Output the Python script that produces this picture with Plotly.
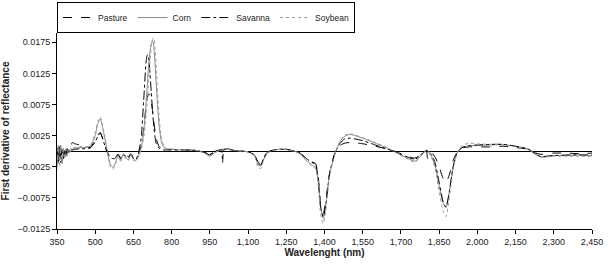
import plotly.graph_objects as go

wavelength = [350, 355, 360, 365, 370, 375, 380, 385, 390, 395, 400, 410, 420, 440, 460, 480,
              500, 510, 520, 530, 545, 560, 570, 580, 590, 600, 610, 620, 630, 640, 650, 660,
              670, 680, 690, 700, 705, 710, 715, 720, 725, 730, 735, 740, 750, 760, 770, 780,
              800, 850, 900, 930, 950, 970, 995, 1000, 1005, 1020, 1050, 1100, 1125, 1140,
              1150, 1160, 1175, 1200, 1250, 1300, 1330, 1350, 1365, 1375, 1385, 1395, 1405,
              1420, 1440, 1460, 1480, 1500, 1550, 1600, 1650, 1680, 1700, 1730, 1755, 1770,
              1790, 1800, 1805, 1820, 1835, 1850, 1865, 1877, 1890, 1905, 1920, 1940, 1970,
              2000, 2050, 2100, 2150, 2200, 2230, 2250, 2270, 2300, 2350, 2400, 2450]

pasture = [-0.0010, 0.0010, -0.0020, 0.0006, -0.0015, 0.0004, -0.0008, 0.0005, -0.0005, 0.0006,
           0.0004, 0.0014, 0.0012, 0.0010, 0.0008, 0.0006,
           0.0018, 0.0026, 0.0030, 0.0020, 0.0002, -0.0012, -0.0015, -0.0010, -0.0006, -0.0010,
           -0.0005, -0.0006, -0.0009, -0.0004, -0.0010, -0.0012,
           -0.0005, 0.0008, 0.0035, 0.0075, 0.0087, 0.0092, 0.0090, 0.0080, 0.0065, 0.0048,
           0.0032, 0.0020, 0.0008, 0.0004, 0.0003, 0.0003,
           0.0003, 0.0002, 0.0001, -0.0002, -0.0006, -0.0001, 0.0003, 0.0003, 0.0003, 0.0004,
           0.0001, -0.0001, -0.0006, -0.0018,
           -0.0020, -0.0012, -0.0002, 0.0002, 0.0003, -0.0002, -0.0012, -0.0017, -0.0020,
           -0.0040, -0.0085, -0.0100, -0.0080,
           -0.0035, -0.0004, 0.0009, 0.0013, 0.0014, 0.0012, 0.0008, 0.0003, -0.0001, -0.0004,
           -0.0009, -0.0011, -0.0008,
           -0.0001, 0.0001, -0.0012, -0.0002, -0.0010, -0.0025, -0.0043, -0.0050, -0.0038,
           -0.0015, -0.0002, 0.0005, 0.0007,
           0.0007, 0.0007, 0.0008, 0.0006, 0.0003, -0.0003, -0.0005, -0.0004, -0.0003, -0.0003,
           -0.0004, -0.0003]

corn = [-0.0025, 0.0008, -0.0015, 0.0010, -0.0020, 0.0003, -0.0010, 0.0004, -0.0006, 0.0003,
        -0.0002, 0.0003, 0.0005, 0.0006, 0.0006, 0.0008,
        0.0025, 0.0044, 0.0052, 0.0036, 0.0005, -0.0022, -0.0026, -0.0018, -0.0006, -0.0015,
        -0.0004, -0.0010, -0.0014, -0.0004, -0.0012, -0.0015,
        -0.0008, 0.0005, 0.0030, 0.0080, 0.0110, 0.0140, 0.0160, 0.0173, 0.0178, 0.0168,
        0.0140, 0.0105, 0.0045, 0.0015, 0.0006, 0.0004,
        0.0003, 0.0002, 0.0001, -0.0003, -0.0008, -0.0002, 0.0002, 0.0002, 0.0003, 0.0004,
        0.0001, -0.0001, -0.0007, -0.0022,
        -0.0024, -0.0014, -0.0003, 0.0002, 0.0003, -0.0003, -0.0015, -0.0022, -0.0026,
        -0.0048, -0.0092, -0.0108, -0.0087,
        -0.0038, -0.0005, 0.0015, 0.0024, 0.0027, 0.0021, 0.0013, 0.0004, -0.0002, -0.0006,
        -0.0012, -0.0016, -0.0011,
        -0.0002, 0.0002, 0.0001, -0.0008, -0.0025, -0.0055, -0.0083, -0.0090, -0.0065,
        -0.0025, -0.0003, 0.0006, 0.0009,
        0.0009, 0.0010, 0.0011, 0.0008, 0.0004, -0.0005, -0.0009, -0.0009, -0.0007, -0.0007,
        -0.0006, -0.0007]

savanna = [0.0005, -0.0020, 0.0008, -0.0018, 0.0005, -0.0012, 0.0002, -0.0008, 0.0004, -0.0003,
           0.0005, 0.0002, 0.0003, 0.0004, 0.0004, 0.0005,
           0.0015, 0.0024, 0.0029, 0.0019, 0.0000, -0.0010, -0.0012, -0.0008, -0.0005, -0.0012,
           -0.0006, -0.0008, -0.0010, -0.0005, -0.0012, -0.0013,
           -0.0002, 0.0020, 0.0080, 0.0145, 0.0155, 0.0150, 0.0125, 0.0095, 0.0065, 0.0040,
           0.0022, 0.0012, 0.0005, 0.0003, 0.0002, 0.0002,
           0.0002, 0.0002, 0.0001, -0.0002, -0.0005, 0.0000, 0.0002, -0.0018, 0.0002, 0.0003,
           0.0001, -0.0001, -0.0006, -0.0020,
           -0.0022, -0.0012, -0.0002, 0.0002, 0.0003, -0.0002, -0.0012, -0.0018, -0.0021,
           -0.0044, -0.0090, -0.0106, -0.0086,
           -0.0036, -0.0004, 0.0012, 0.0020, 0.0021, 0.0017, 0.0010, 0.0003, -0.0001, -0.0005,
           -0.0010, -0.0013, -0.0009,
           -0.0001, 0.0001, 0.0000, -0.0005, -0.0020, -0.0050, -0.0080, -0.0090, -0.0065,
           -0.0025, -0.0003, 0.0006, 0.0009,
           0.0010, 0.0011, 0.0011, 0.0008, 0.0003, -0.0005, -0.0009, -0.0008, -0.0007, -0.0006,
           -0.0006, -0.0006]

soybean = [-0.0030, 0.0010, -0.0025, 0.0005, -0.0018, 0.0006, -0.0012, 0.0003, -0.0008, 0.0004,
           0.0000, 0.0005, 0.0006, 0.0008, 0.0007, 0.0009,
           0.0030, 0.0048, 0.0055, 0.0040, 0.0006, -0.0025, -0.0029, -0.0020, -0.0008, -0.0016,
           -0.0005, -0.0012, -0.0015, -0.0005, -0.0015, -0.0016,
           -0.0009, 0.0003, 0.0020, 0.0060, 0.0085, 0.0115, 0.0145, 0.0168, 0.0180, 0.0182,
           0.0165, 0.0130, 0.0060, 0.0020, 0.0008, 0.0004,
           0.0003, 0.0002, 0.0001, -0.0003, -0.0008, -0.0002, 0.0002, 0.0002, 0.0003, 0.0003,
           0.0001, -0.0001, -0.0008, -0.0026,
           -0.0028, -0.0016, -0.0003, 0.0002, 0.0003, -0.0003, -0.0016, -0.0024, -0.0028,
           -0.0052, -0.0102, -0.0116, -0.0096,
           -0.0040, -0.0006, 0.0016, 0.0026, 0.0028, 0.0022, 0.0014, 0.0005, -0.0002, -0.0007,
           -0.0013, -0.0018, -0.0012,
           -0.0002, 0.0001, 0.0000, -0.0010, -0.0030, -0.0065, -0.0095, -0.0105, -0.0075,
           -0.0030, -0.0004, 0.0009, 0.0013,
           0.0012, 0.0011, 0.0010, 0.0007, 0.0003, -0.0006, -0.0010, -0.0009, -0.0008, -0.0008,
           -0.0008, -0.0009]

series_names = ["Pasture", "Corn", "Savanna", "Soybean"]
series_values = [pasture, corn, savanna, soybean]
series_colors = ["#000000", "#8a8a8a", "#000000", "#9a9a9a"]
series_dashes = ["dash", "solid", "dashdot", "dot"]

x_ticks = list(range(350, 2451, 150))
y_ticks = [-0.0125, -0.0075, -0.0025, 0.0025, 0.0075, 0.0125, 0.0175]

for v in series_values:
    assert len(v) == len(wavelength)

FONT = "Liberation Sans Narrow, Liberation Sans, Arial, sans-serif"

fig = go.Figure()
for name, vals, col, dash in zip(series_names, series_values, series_colors, series_dashes):
    fig.add_trace(go.Scatter(
        x=wavelength, y=vals, name=name, mode="lines",
        line=dict(color=col, width=1, dash=dash, shape="spline", smoothing=0.6),
    ))

fig.update_layout(
    width=608, height=264,
    margin=dict(l=57, r=16, t=33, b=35, autoexpand=False),
    paper_bgcolor="white", plot_bgcolor="white",
    font=dict(family=FONT, size=9, color="#222"),
    showlegend=True,
    legend=dict(
        orientation="h", x=0.0, xanchor="left", y=1.158, yanchor="top",
        bordercolor="black", borderwidth=1, bgcolor="white",
        font=dict(family=FONT, size=8.5, color="#222"),
        itemwidth=30, tracegroupgap=0,
    ),
    xaxis=dict(
        range=[350, 2450], tickvals=x_ticks, tickformat=",d",
        showline=True, linecolor="black", linewidth=1,
        ticks="outside", ticklen=4, tickcolor="black",
        tickfont=dict(family=FONT, size=9, color="#222"),
        showgrid=False, zeroline=False,
        title=dict(text="<b>Wavelenght (nm)</b>", standoff=1,
                   font=dict(family=FONT, size=10, color="#222")),
    ),
    yaxis=dict(
        range=[-0.0125, 0.019], tickvals=y_ticks, tickformat=".4f",
        showline=True, linecolor="black", linewidth=1,
        ticks="outside", ticklen=4, tickcolor="black",
        tickfont=dict(family=FONT, size=9, color="#222"),
        showgrid=False, zeroline=True, zerolinecolor="black", zerolinewidth=1,
        title=dict(text="<b>First derivative of reflectance</b>", standoff=6,
                   font=dict(family=FONT, size=10, color="#222")),
    ),
)

fig.write_html("out.html", config={"displayModeBar": False},
               post_script="document.body.style.margin='0';")
